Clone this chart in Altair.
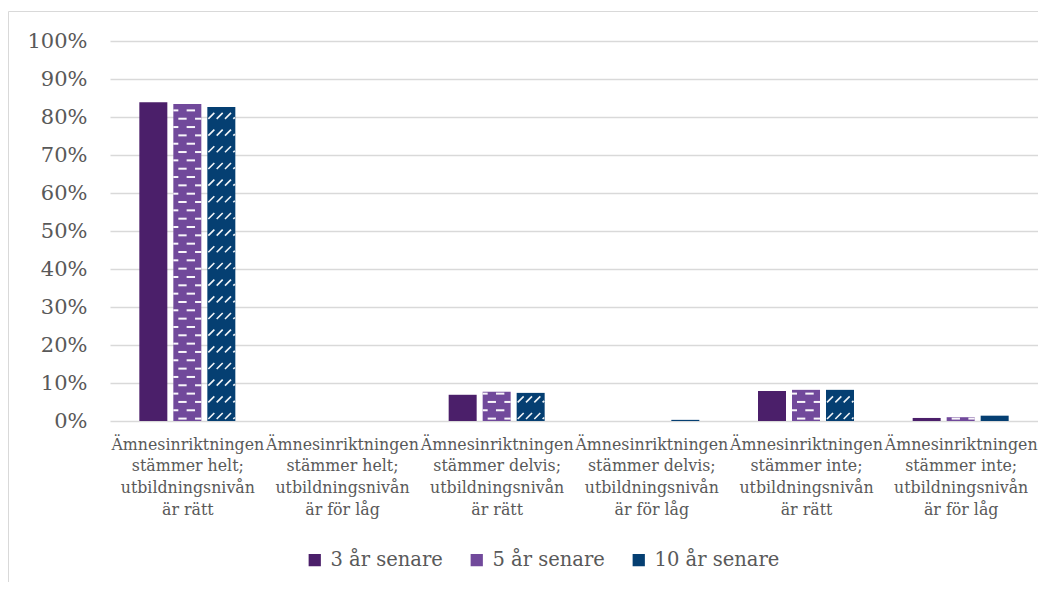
import json
import altair as alt
import pandas as pd

# ---------------- data ----------------
categories = [
    "Ämnesinriktningen\nstämmer helt;\nutbildningsnivån\när rätt",
    "Ämnesinriktningen\nstämmer helt;\nutbildningsnivån\när för låg",
    "Ämnesinriktningen\nstämmer delvis;\nutbildningsnivån\när rätt",
    "Ämnesinriktningen\nstämmer delvis;\nutbildningsnivån\när för låg",
    "Ämnesinriktningen\nstämmer inte;\nutbildningsnivån\när rätt",
    "Ämnesinriktningen\nstämmer inte;\nutbildningsnivån\när för låg",
]
series = ["3 år senare", "5 år senare", "10 år senare"]
colors = ["#4b1f6a", "#71499b", "#053f72"]
values_3 = [0.839, 0.0, 0.069, 0.0, 0.079, 0.008]
values_5 = [0.834, 0.0, 0.077, 0.0, 0.082, 0.010]
values_10 = [0.826, 0.0, 0.074, 0.003, 0.082, 0.014]
y_ticks = [i / 10 for i in range(11)]

# ---------------- layout constants ----------------
PLOT_W = 928
PLOT_H = 380
UNIT_PX = PLOT_W / len(categories)   # pixels per category unit
BAR_PX = 28
STEP_PX = 34
FONT = "DejaVu Serif"
TEXT_GREY = "#595959"
GRID_GREY = "#d9d9d9"

# ---------------- bar table ----------------
bar_rows = []
for s_i, (name, vals) in enumerate(zip(series, [values_3, values_5, values_10])):
    for c_i, v in enumerate(vals):
        center = c_i + (s_i - 1) * STEP_PX / UNIT_PX
        bar_rows.append(dict(category=c_i, series=name, value=v,
                             x0=center - BAR_PX / 2 / UNIT_PX,
                             x1=center + BAR_PX / 2 / UNIT_PX))
bars_df = pd.DataFrame(bar_rows)

# ---------------- fill patterns (decoration derived from the bars) ----------------
def px_x(left, px):
    return left + px / UNIT_PX

def px_y(px):
    return px / PLOT_H

dash_rows = []   # 5 år: brick of short horizontal dashes
diag_rows = []   # 10 år: rows of short upward diagonals
for r in bar_rows:
    h_px = r["value"] * PLOT_H
    if r["series"] == "5 år senare":
        k = 0
        while True:
            yb = 2.4 + k * 8.33
            if yb > h_px - 1.2:
                break
            segs = [(5.0, 13.3), (21.7, 28.0)] if k % 2 == 0 else [(0.0, 5.0), (13.3, 21.7)]
            for a, b in segs:
                dash_rows.append(dict(x0=px_x(r["x0"], a), x1=px_x(r["x0"], b), value=px_y(yb)))
            k += 1
    elif r["series"] == "10 år senare":
        k = 0
        while True:
            yc = 5.0 + k * 16.67
            if yc + 3 > h_px:
                break
            for m in range(4):
                xs = 1.0 + m * 8.33
                xe = min(xs + 6.0, BAR_PX - 0.5)
                if xe - xs < 1.5:
                    continue
                rise = (xe - xs)
                diag_rows.append(dict(x0=px_x(r["x0"], xs), x1=px_x(r["x0"], xe),
                                      value=px_y(yc - 3), value2=px_y(yc - 3 + rise)))
            k += 1
dash_df = pd.DataFrame(dash_rows)
diag_df = pd.DataFrame(diag_rows)

# ---------------- scales / axes ----------------
x_scale = alt.Scale(domain=[-0.5, len(categories) - 0.5], nice=False, zero=False)
y_scale = alt.Scale(domain=[0, 1], nice=False)

label_expr = "[" + ",".join(json.dumps(c.split("\n"), ensure_ascii=False) for c in categories) + "][datum.value]"

x_axis = alt.Axis(values=list(range(len(categories))), labelExpr=label_expr, grid=False,
                  ticks=False, domain=False, title=None, labelFont=FONT, labelFontSize=15.8,
                  labelColor=TEXT_GREY, labelLineHeight=21.7, labelPadding=16,
                  labelOverlap=False, labelFlush=False, labelBound=False, labelLimit=400,
                  labelAlign="center")
y_axis = alt.Axis(values=y_ticks, format=".0%", grid=True, gridColor=GRID_GREY, gridWidth=1.5,
                  domain=False, ticks=False, tickSize=0, labelPadding=23, labelFont=FONT,
                  labelFontSize=21, labelColor=TEXT_GREY, title=None)

legend = alt.Legend(orient="none", legendX=195, legendY=509, direction="horizontal", title=None,
                    symbolType="square", symbolSize=150, symbolStrokeWidth=0, labelFont=FONT,
                    labelFontSize=19.5, labelColor=TEXT_GREY, columnPadding=24, labelOffset=6,
                    padding=0)

X = alt.X("x0:Q", scale=x_scale, axis=x_axis)
Y = alt.Y("value:Q", scale=y_scale, axis=y_axis)

bars = alt.Chart(bars_df).mark_rect().encode(
    x=X,
    x2="x1:Q",
    y=Y,
    y2=alt.datum(0),
    color=alt.Color("series:N", scale=alt.Scale(domain=series, range=colors), legend=legend,
                    sort=series),
)

dashes = alt.Chart(dash_df).mark_rule(color="#ffffff", strokeWidth=2, opacity=0.95).encode(
    x=X,
    x2="x1:Q",
    y=Y,
)

diags = alt.Chart(diag_df).mark_rule(color="#ffffff", strokeWidth=1.6, opacity=0.95).encode(
    x=X,
    x2="x1:Q",
    y=Y,
    y2="value2:Q",
)

border = alt.Chart(pd.DataFrame({"k": [0]})).mark_rect(
    fillOpacity=0, stroke=GRID_GREY, strokeWidth=1
).encode(x=alt.value(-101.5), x2=alt.value(1100), y=alt.value(-29.5), y2=alt.value(700))

chart = alt.layer(border, bars, dashes, diags).properties(
    width=PLOT_W,
    height=PLOT_H,
    padding={"left": 102, "top": 33, "right": 0, "bottom": 161},
    autosize=alt.AutoSizeParams(type="none"),
).configure_view(strokeWidth=0)

chart.save("out.html", embed_options={"renderer": "svg", "actions": False})
